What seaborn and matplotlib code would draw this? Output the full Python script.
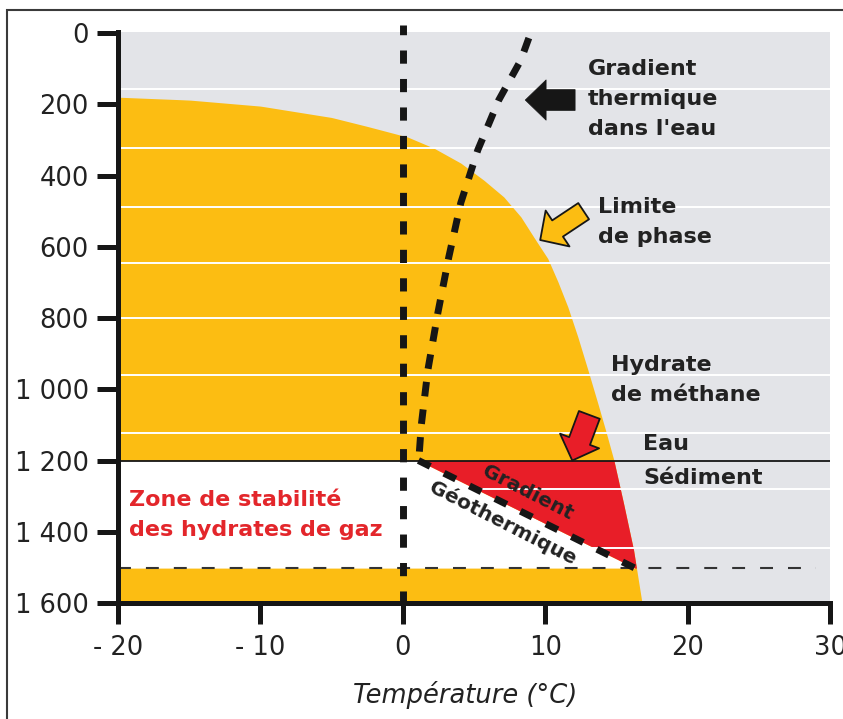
import numpy as np
import matplotlib
matplotlib.use("Agg")
import matplotlib.pyplot as plt
import seaborn as sns
from matplotlib.patches import Rectangle
from matplotlib.ticker import FixedLocator

# ---------------- data ----------------
x_ticks = [-20, -10, 0, 10, 20, 30]
x_tick_labels = ["- 20", "- 10", "0", "10", "20", "30"]
y_ticks = [0, 200, 400, 600, 800, 1000, 1200, 1400, 1600]
y_tick_labels = ["0", "200", "400", "600", "800", "1 000", "1 200", "1 400", "1 600"]

# phase boundary of methane hydrate (temperature °C vs depth m)
phase_temp = [-20, -15, -10, -5, -2.5, 0.35, 2.18, 4.07, 5.69, 7.09, 8.29, 9.20, 10.18,
              10.89, 11.59, 12.29, 13.0, 13.69, 14.26, 14.82, 15.5, 16.2, 16.8]
phase_depth = [180, 188, 205, 237, 262, 292, 323, 365, 413, 460, 516, 573, 633,
               698, 769, 853, 946, 1039, 1118, 1199, 1320, 1450, 1600]

# thermal gradient in the water column
water_temp = [8.85, 8.29, 6.74, 5.27, 4.07, 3.23, 2.46, 1.76, 1.30, 1.12]
water_depth = [14, 76, 188, 328, 477, 629, 786, 946, 1100, 1200]

# geothermal gradient in the sediment
geo_temp = [1.1, 16.8]
geo_depth = [1200, 1512]

seafloor_depth = 1200
stability_base_depth = 1502
freeze_temp = 0
grid_depths = [158, 322, 487, 646, 801, 960, 1122, 1280, 1445]
grid_temps = [-10, 10, 20]

ORANGE = "#FCBD12"
RED = "#E81E28"
GREY = "#E3E4E8"
INK = "#161616"

sns.set_theme(style="darkgrid")
plt.rcParams["font.family"] = ["DejaVu Sans"]

fig = plt.figure(figsize=(8.43, 7.19), dpi=100)
fig.patch.set_facecolor("white")
ax = fig.add_axes([118 / 843, 1 - 603 / 719, (830 - 118) / 843, (603 - 32) / 719])
ax.set_facecolor(GREY)

ax.set_xlim(-20, 30)
ax.set_ylim(1600, -3)

# ---------- filled regions ----------
d_all = np.linspace(min(phase_depth), 1600, 1200)
t_phase = np.interp(d_all, phase_depth, phase_temp)
ax.fill_betweenx(d_all, -20, t_phase, color=ORANGE, lw=0, zorder=0.3)

d_sed = np.linspace(seafloor_depth, stability_base_depth, 400)
t_geo = np.interp(d_sed, geo_depth, geo_temp)
t_ph = np.interp(d_sed, phase_depth, phase_temp)
ax.fill_betweenx(d_sed, -20, t_geo, color="white", lw=0, zorder=0.35)
ax.fill_betweenx(d_sed, t_geo, t_ph, where=t_ph >= t_geo, color=RED, lw=0, zorder=0.35)

# ---------- grid ----------
ax.set_axisbelow(True)
ax.set_xticks(x_ticks)
ax.set_xticklabels(x_tick_labels)
ax.set_yticks(y_ticks)
ax.set_yticklabels(y_tick_labels)
ax.yaxis.set_minor_locator(FixedLocator(grid_depths))
ax.xaxis.set_minor_locator(FixedLocator(grid_temps))
ax.grid(False)
ax.grid(which="minor", axis="both", color="white", lw=1.4)
ax.tick_params(which="minor", length=0)

# ---------- lines ----------
ax.plot([-20, 30], [seafloor_depth, seafloor_depth], color=INK, lw=1.3, zorder=3)
ax.plot([-20, 29], [stability_base_depth, stability_base_depth], color="#333333",
        lw=1.5, ls=(0, (6.2, 7.2)), zorder=3)
ax.plot([freeze_temp, freeze_temp], [-22, 1600], color=INK, lw=5,
        ls=(0.5, (1.9, 2.2)), zorder=4, clip_on=False, solid_capstyle="butt")
sns.lineplot(x=water_temp, y=water_depth, orient="y", sort=False, ax=ax,
             color=INK, lw=5, ls=(0, (2.1, 1.9)), zorder=4)
sns.lineplot(x=geo_temp, y=geo_depth, orient="y", sort=False, ax=ax,
             color=INK, lw=5, ls=(0, (1.9, 2.2)), zorder=4)

# ---------- arrows ----------
ax.annotate("", xy=(8.6, 188), xytext=(12.1, 188),
            arrowprops=dict(arrowstyle="simple,head_length=0.75,head_width=1.45,tail_width=0.75",
                            mutation_scale=20, fc=INK, ec=INK, lw=0.5, shrinkA=0, shrinkB=0),
            zorder=5)
ax.annotate("", xy=(9.65, 581), xytext=(12.7, 500),
            arrowprops=dict(arrowstyle="simple,head_length=0.75,head_width=1.55,tail_width=0.7",
                            mutation_scale=20, fc=ORANGE, ec=INK, lw=1.3, shrinkA=0, shrinkB=0),
            zorder=5)
ax.annotate("", xy=(11.9, 1200), xytext=(13.1, 1072),
            arrowprops=dict(arrowstyle="simple,head_length=0.75,head_width=1.5,tail_width=0.8",
                            mutation_scale=20, fc=RED, ec=INK, lw=1.3, shrinkA=0, shrinkB=0),
            zorder=5)

# ---------- texts ----------
tkw = dict(fontsize=16, fontweight="bold", color="#222222", ha="left", va="center",
           linespacing=1.65, zorder=6)
ax.text(13.0, 185, "Gradient\nthermique\ndans l'eau", **tkw)
ax.text(13.7, 531, "Limite\nde phase", **tkw)
ax.text(14.6, 974, "Hydrate\nde méthane", **tkw)
ax.text(16.9, 1155, "Eau", **tkw)
ax.text(16.9, 1248, "Sédiment", **tkw)
ax.text(-19.2, 1353, "Zone de stabilité\ndes hydrates de gaz", fontsize=16,
        fontweight="bold", color="#E3262B", ha="left", va="center", linespacing=1.6, zorder=6)
ax.text(8.78, 1290, "Gradient", fontsize=14.5, fontweight="bold", color="#222222",
        ha="center", va="center", rotation=-27, rotation_mode="anchor", zorder=6)
ax.text(7.02, 1375, "Géothermique", fontsize=14.5, fontweight="bold", color="#222222",
        ha="center", va="center", rotation=-27, rotation_mode="anchor", zorder=6)

# ---------- axes styling ----------
for side in ["top", "right"]:
    ax.spines[side].set_visible(False)
for side in ["left", "bottom"]:
    ax.spines[side].set_visible(True)
    ax.spines[side].set_color(INK)
    ax.spines[side].set_linewidth(3.6)
    ax.spines[side].set_zorder(6)
ax.tick_params(which="major", length=15, width=3.6, color=INK, labelcolor="#222222",
               labelsize=18.5, direction="out", bottom=True, left=True)
ax.tick_params(axis="y", pad=6)
ax.tick_params(axis="x", pad=8)
for lab in ax.get_xticklabels():
    lab.set_clip_on(False)

ax.set_xlabel("Température (°C)", fontsize=18.5, style="italic", color="#222222")
ax.set_ylabel("")
ax.xaxis.set_label_coords(0.487, -0.161)
ax.xaxis.label.set_va("center")

fig.add_artist(Rectangle((7 / 843, -0.1), 1.5, 1 - 10 / 719 + 0.1, transform=fig.transFigure,
                         fill=False, ec="#3a3a3a", lw=1.5))

fig.savefig("out.png", dpi=100, facecolor="white")
